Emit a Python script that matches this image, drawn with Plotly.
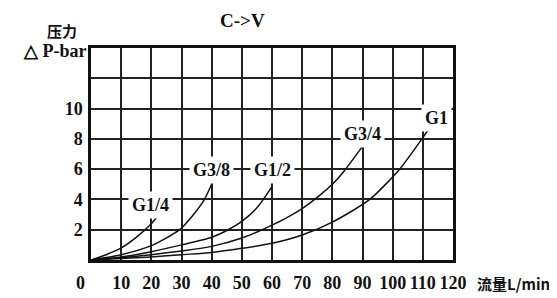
import plotly.graph_objects as go

# ---- data ----
g14_x = [0, 5, 10, 15, 20, 23]
g14_y = [0, 0.35, 0.8, 1.5, 2.4, 3.1]

g38_x = [0, 10, 20, 29.4, 34, 37.6, 40]
g38_y = [0, 0.35, 0.95, 2.0, 3.0, 4.0, 5.0]

g12_x = [0, 10, 20, 30, 40, 45, 50, 55, 60]
g12_y = [0, 0.2, 0.55, 1.0, 1.5, 1.95, 2.55, 3.45, 4.85]

g34_x = [0, 10, 20, 30, 40, 50, 60, 70, 76, 80, 84, 90]
g34_y = [0, 0.15, 0.35, 0.6, 0.9, 1.45, 2.3, 3.4, 4.3, 5.0, 5.9, 7.5]

g1_x = [0, 10, 20, 30, 40, 50, 60, 70, 80, 92.4, 102.3, 109, 112.8]
g1_y = [0, 0.1, 0.2, 0.35, 0.5, 0.77, 1.1, 1.65, 2.5, 4.0, 6.0, 7.8, 8.9]

series = [
    ("G1/4", g14_x, g14_y),
    ("G3/8", g38_x, g38_y),
    ("G1/2", g12_x, g12_y),
    ("G3/4", g34_x, g34_y),
    ("G1", g1_x, g1_y),
]

# label anchor positions (data coords)
label_names = ["G1/4", "G3/8", "G1/2", "G3/4", "G1"]
label_x = [19.6, 40, 60, 90, 114.6]
label_y = [3.6, 5.95, 5.95, 8.3, 9.35]

x_tickvals = [10, 20, 30, 40, 50, 60, 70, 80, 90, 100, 110, 120]
x_ticktext = ["10", "20", "30", "40", "50", "60", "70", "80", "90", "100", "110", "120"]
y_tickvals = [2, 4, 6, 8, 10]
y_ticktext = ["2", "4", "6", "8", "10"]

title_text = "C->V"
y_title1 = "压力"
y_title2 = "△ P-bar"
x_title = "流量L/min"

FONT = "Liberation Serif, serif"
CJK = "Noto Sans CJK SC, sans-serif"

fig = go.Figure()
for name, xs, ys in series:
    fig.add_trace(go.Scatter(x=xs, y=ys, mode="lines", name=name,
                             line=dict(color="#111", width=1.5, shape="spline", smoothing=0.7),
                             showlegend=False, hoverinfo="skip"))

for t, lx, ly in zip(label_names, label_x, label_y):
    fig.add_annotation(x=lx, y=ly, text=t, showarrow=False,
                       font=dict(family=FONT, size=18, color="#111", weight="bold"),
                       bgcolor="white", borderpad=3)

# "0" tick label placed at origin, shifted left as in the reference
fig.add_annotation(x=0, y=0, text="0", showarrow=False, xshift=-11, yshift=-23,
                   font=dict(family=FONT, size=18, color="#111", weight="bold"))

fig.add_annotation(xref="paper", yref="paper", x=1.0, y=0, xanchor="left", yanchor="middle",
                   xshift=22, yshift=-23, text=x_title, showarrow=False,
                   font=dict(family=CJK, size=15, color="#111", weight="bold"))

fig.add_annotation(xref="paper", yref="paper", x=0, y=1, xanchor="center", yanchor="middle",
                   xshift=-29, yshift=18, text=y_title1, showarrow=False,
                   font=dict(family=CJK, size=15, color="#111", weight="bold"))
fig.add_annotation(xref="paper", yref="paper", x=0, y=1, xanchor="right", yanchor="middle",
                   xshift=-2, yshift=-3, text=y_title2, showarrow=False,
                   font=dict(family=FONT, size=18, color="#111", weight="bold"))

fig.add_annotation(xref="paper", yref="paper", x=0, y=1, xanchor="center", yanchor="middle",
                   xshift=151, yshift=28, text=title_text, showarrow=False,
                   font=dict(family=FONT, size=19, color="#111", weight="bold"))

grid = dict(gridcolor="#222", gridwidth=1.6)
# the page body has an 8px margin, so the figure is sized/offset to compensate
fig.update_layout(
    width=549, height=290,
    margin=dict(l=83, r=104, t=40, b=38),
    paper_bgcolor="white", plot_bgcolor="white",
    xaxis=dict(range=[0, 120], tickvals=x_tickvals, ticktext=x_ticktext,
               showgrid=True, **grid, zeroline=False, automargin=False, tickangle=0,
               showline=True, linecolor="#111", linewidth=2.5, mirror=True,
               ticks="", ticklabelstandoff=5,
               tickfont=dict(family=FONT, size=18, color="#111", weight="bold")),
    yaxis=dict(range=[0, 14], tickvals=y_tickvals, ticktext=y_ticktext,
               showgrid=True, **grid, zeroline=False, automargin=False,
               minor=dict(tickvals=[12], showgrid=True, gridcolor="#222", gridwidth=1.6),
               showline=True, linecolor="#111", linewidth=2.5, mirror=True,
               ticks="", ticklabelstandoff=2,
               tickfont=dict(family=FONT, size=18, color="#111", weight="bold")),
)

fig.write_html("out.html")
